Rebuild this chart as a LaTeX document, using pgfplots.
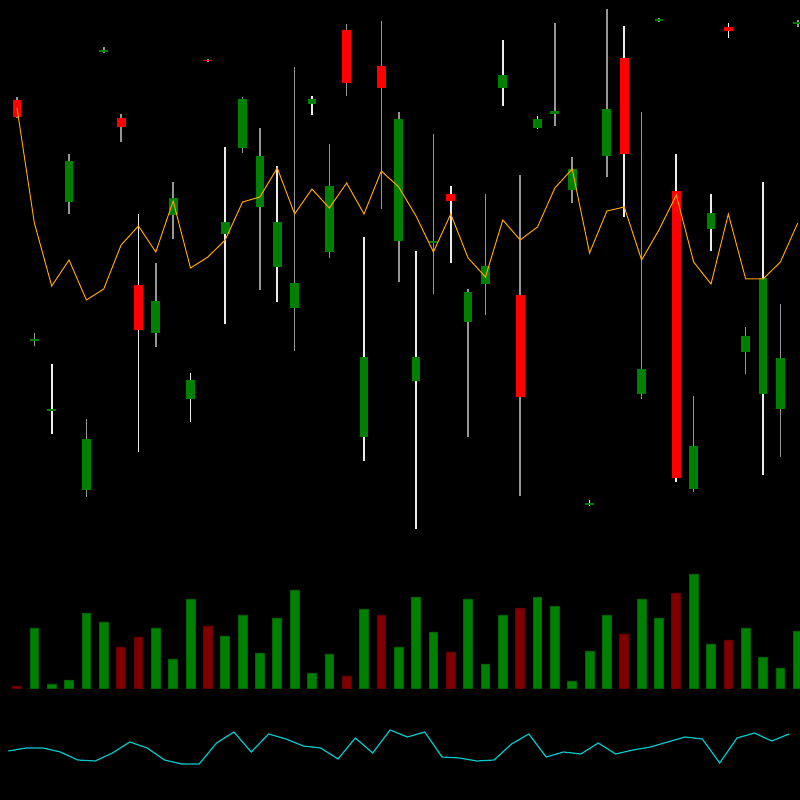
\documentclass[border=0pt]{standalone}
\usepackage{pgfplots}
\pgfplotsset{compat=1.18}
\usepackage{pgfplotstable}
\definecolor{cgreen}{RGB}{0,128,0}
\definecolor{cgreenedge}{RGB}{0,100,0}
\definecolor{cred}{RGB}{255,0,0}
\definecolor{vred}{RGB}{128,0,0}
\definecolor{vrededge}{RGB}{100,0,0}
\definecolor{cgray}{RGB}{150,150,150}
\definecolor{cwhite}{RGB}{235,235,235}
\definecolor{cma}{RGB}{255,165,0}
\definecolor{ccyan}{RGB}{0,200,205}

% candles: x open high low close
\pgfplotstableread{
x open high low close
2 389 436 366 391
10 401 427 378 420
12 566 653 476 578
15 533 634 498 578
17 696 704 685 701
20 363 563 339 443
23 419 549 271 443
28 712 760 694 725
30 672 684 671 681
33 295 300 294 297
40 571 606 549 587
43 406 618 325 522
}\gw
\pgfplotstableread{
x open high low close
1 459 467 454 461
3 598 646 586 639
4 310 381 303 361
5 748 753 747 750
8 467 537 453 499
9 585 618 561 602
13 652 703 647 701
14 593 672 510 644
16 492 733 449 517
18 548 656 542 614
22 559 688 518 681
24 557 666 506 559
26 478 511 363 508
27 516 606 485 534
31 686 777 674 689
32 610 643 597 631
34 644 791 623 691
36 406 688 401 431
37 779 782 778 781
39 311 404 308 354
42 448 473 426 464
44 391 496 343 442
45 776 780 773 778
}\gg
\pgfplotstableread{
x open high low close
7 515 586 348 470
25 606 614 537 599
35 742 774 583 646
38 609 646 318 322
41 773 777 762 769
}\rw
\pgfplotstableread{
x open high low close
0 700 703 682 683
6 682 686 658 673
11 740 741 738 738.5
19 770 776 704 717
21 734 779 591 712
29 505 625 304 403
}\rg
\pgfplotstableread{
x ma
0 692
1 577
2 514
3 540
4 500
5 511
6 555
7 574
8 548
9 599
10 532
11 543
12 560
13 598
14 603
15 632
16 586
17 611
18 592
19 617
20 586
21 629
22 613
23 584
24 548
25 586
26 542
27 523
28 580
29 560
30 573
31 612
32 631
33 547
34 589
35 593
36 540
37 570
38 605
39 538
40 516
41 586
42 521
43 521
44 538
45 577
}\matab
\pgfplotstableread{
x osc
-0.5 49
0.5 52
1.5 52
2.5 48
3.5 40
4.5 39
5.5 47
6.5 58
7.5 52
8.5 40
9.5 36
10.5 36
11.5 57
12.5 68
13.5 48
14.5 66
15.5 61
16.5 54
17.5 52
18.5 41
19.5 62
20.5 47
21.5 70
22.5 63
23.5 68
24.5 43
25.5 42
26.5 39
27.5 40
28.5 56
29.5 66
30.5 43
31.5 48
32.5 46
33.5 57
34.5 46
35.5 50
36.5 53
37.5 58
38.5 63
39.5 61
40.5 37
41.5 62
42.5 67
43.5 59
44.5 66
}\osctab
\pgfplotstableread{
x v
1 60
2 4
3 8
4 75
5 66
8 60
9 29
10 89
12 52
13 73
14 35
15 70
16 98
17 15
18 34
20 79
22 41
23 91
24 56
26 89
27 24
28 73
30 91
31 82
32 7
33 37
34 73
36 89
37 70
39 114
40 44
42 60
43 31
44 20
45 57
}\volg
\pgfplotstableread{
x v
0 2
6 41
7 51
11 62
19 12
21 73
25 36
29 80
35 54
38 95
41 48
}\volr

\newcommand{\candleset}[3]{%
  \addplot[draw=none, mark=none, forget plot,
    error bars/.cd, y dir=plus, y explicit, error mark=none,
    error bar style={line width=0.8pt, draw=#3}]
    table[x=x, y=low, y error expr=\thisrow{high}-\thisrow{low}] {#1};
  \addplot[draw=none, mark=none, forget plot,
    error bars/.cd, y dir=plus, y explicit, error mark=none,
    error bar style={line width=4.4pt, draw=#2}]
    table[x=x, y expr={min(\thisrow{open},\thisrow{close})},
          y error expr={abs(\thisrow{close}-\thisrow{open})}] {#1};
}

\begin{document}
\begin{tikzpicture}
\fill[black] (0,0) rectangle (400pt,400pt);
% volume panel
\begin{axis}[at={(0,0)}, anchor=south west, scale only axis,
  width=400pt, height=400pt, hide axis,
  xmin=-0.98, xmax=45.13, ymin=-112, ymax=688]
\addplot[ybar, bar width=4.4pt, bar shift=0pt, fill=cgreen, draw=cgreenedge, line width=0.4pt] table[x=x, y=v] {\volg};
\addplot[ybar, bar width=4.4pt, bar shift=0pt, fill=vred, draw=vrededge, line width=0.4pt] table[x=x, y=v] {\volr};
\end{axis}
% price panel and oscillator
\begin{axis}[at={(0,0)}, anchor=south west, scale only axis,
  width=400pt, height=400pt, hide axis,
  xmin=-0.98, xmax=45.13, ymin=0, ymax=800]
\candleset{\gw}{cgreen}{cwhite}
\candleset{\gg}{cgreen}{cgray}
\candleset{\rw}{cred}{cwhite}
\candleset{\rg}{cred}{cgray}
\addplot[cma, line width=0.5pt, mark=none] table[x=x, y=ma] {\matab};
\addplot[ccyan, line width=0.6pt, mark=none] table[x=x, y=osc] {\osctab};
\end{axis}
\pgfresetboundingbox
\useasboundingbox (0,0) rectangle (400pt,400pt);
\end{tikzpicture}
\end{document}
